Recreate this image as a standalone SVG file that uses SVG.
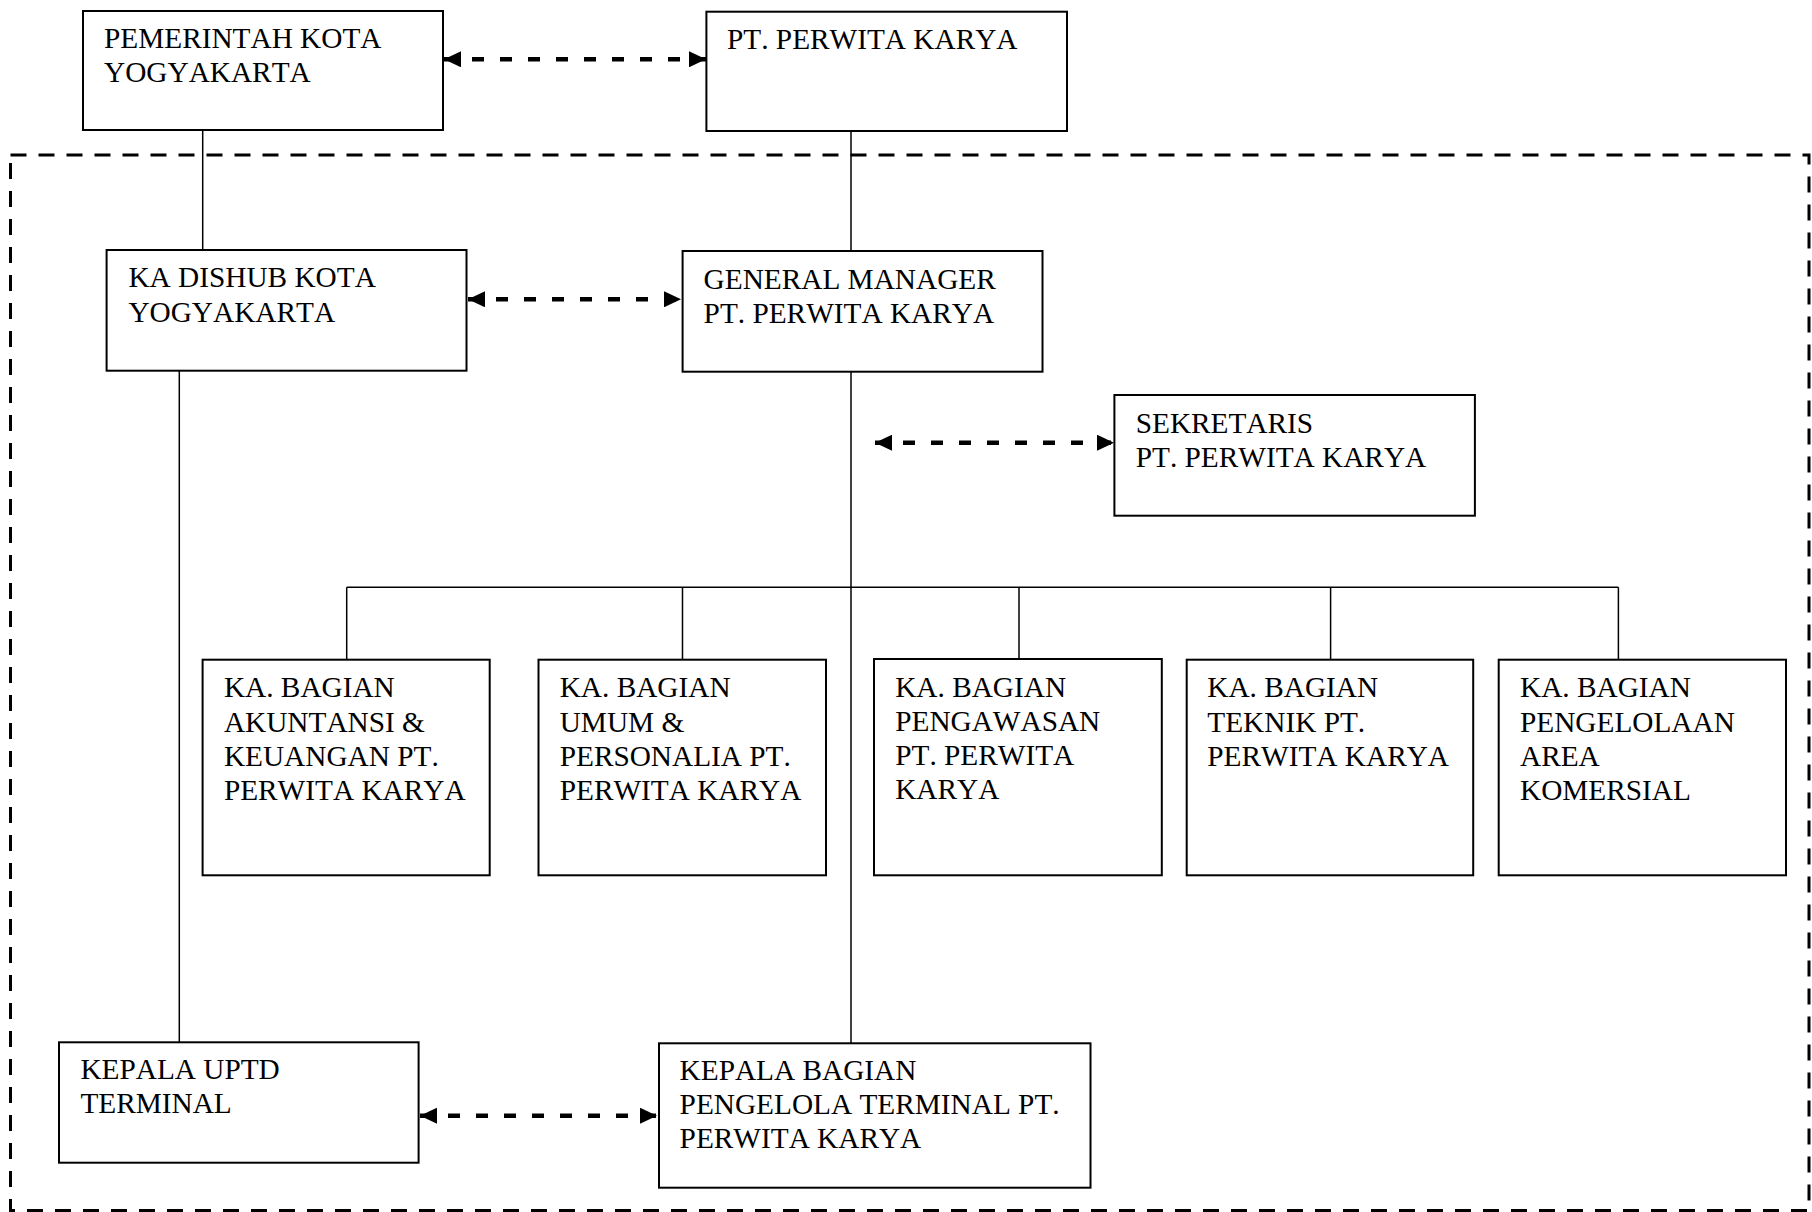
<svg xmlns="http://www.w3.org/2000/svg" width="1812" height="1212" viewBox="0 0 1812 1212">
<style>
.box{fill:#fff;stroke:#000;stroke-width:2}
.t{font-family:"Liberation Serif","Times New Roman",serif;font-size:29.3px;font-kerning:none;fill:#000}
.ln{stroke:#000;stroke-width:1.5;fill:none}
.da{stroke:#000;stroke-width:4.5;fill:none;stroke-dasharray:12 16;marker-start:url(#ah);marker-end:url(#ah)}
.frame{fill:none;stroke:#000;stroke-width:3;stroke-dasharray:16 12}
</style>
<defs>
<marker id="ah" markerUnits="userSpaceOnUse" markerWidth="18" markerHeight="16" refX="17" refY="8" orient="auto-start-reverse">
<path d="M0,0 L17,8 L0,16 z" fill="#000"/>
</marker>
</defs>
<rect class="frame" x="10.5" y="155" width="1798.5" height="1055.5"/>
<g id="connectors">
<line class="ln" x1="202.7" y1="130" x2="202.7" y2="250"/>
<line class="ln" x1="851" y1="131" x2="851" y2="251"/>
<line class="ln" x1="179.3" y1="371" x2="179.3" y2="1042"/>
<line class="ln" x1="851" y1="372" x2="851" y2="1043"/>
<line class="ln" x1="346.7" y1="587.3" x2="1618.4" y2="587.3"/>
<line class="ln" x1="346.7" y1="587.3" x2="346.7" y2="659.7"/>
<line class="ln" x1="682.5" y1="587.3" x2="682.5" y2="659.7"/>
<line class="ln" x1="1019" y1="587.3" x2="1019" y2="659"/>
<line class="ln" x1="1330.6" y1="587.3" x2="1330.6" y2="659.7"/>
<line class="ln" x1="1618.4" y1="587.3" x2="1618.4" y2="659.7"/>
<line class="da" x1="444" y1="59.3" x2="706" y2="59.3"/>
<line class="da" x1="468" y1="299.3" x2="681" y2="299.3"/>
<line class="da" x1="875" y1="442.7" x2="1114" y2="442.7"/>
<line class="da" x1="420" y1="1115.7" x2="657" y2="1115.7"/>
</g>
<g id="pemerintah">
<rect class="box" x="83" y="11" width="360" height="119"/>
<text class="t" x="104" y="48.3">PEMERINTAH KOTA</text>
<text class="t" x="104" y="81.7">YOGYAKARTA</text>
</g>
<g id="perwita">
<rect class="box" x="706.4" y="11.7" width="360.6" height="119.3"/>
<text class="t" x="727" y="49.3">PT. PERWITA KARYA</text>
</g>
<g id="dishub">
<rect class="box" x="106.6" y="250" width="359.9" height="120.7"/>
<text class="t" x="128.4" y="287.3">KA DISHUB KOTA</text>
<text class="t" x="128.4" y="321.7">YOGYAKARTA</text>
</g>
<g id="gm">
<rect class="box" x="682.6" y="251" width="359.9" height="120.7"/>
<text class="t" x="703.6" y="289.3">GENERAL MANAGER</text>
<text class="t" x="703.6" y="322.7">PT. PERWITA KARYA</text>
</g>
<g id="sekretaris">
<rect class="box" x="1114.4" y="395" width="360.5" height="120.7"/>
<text class="t" x="1135.7" y="432.7">SEKRETARIS</text>
<text class="t" x="1135.7" y="466.7">PT. PERWITA KARYA</text>
</g>
<g id="akuntansi">
<rect class="box" x="202.6" y="659.7" width="287.1" height="215.6"/>
<text class="t" x="223.9" y="697.3">KA. BAGIAN</text>
<text class="t" x="223.9" y="731.5">AKUNTANSI &amp;</text>
<text class="t" x="223.9" y="765.5">KEUANGAN PT.</text>
<text class="t" x="223.9" y="799.5">PERWITA KARYA</text>
</g>
<g id="umum">
<rect class="box" x="538.5" y="659.7" width="287.5" height="215.6"/>
<text class="t" x="559.7" y="697.3">KA. BAGIAN</text>
<text class="t" x="559.7" y="731.5">UMUM &amp;</text>
<text class="t" x="559.7" y="765.5">PERSONALIA PT.</text>
<text class="t" x="559.7" y="799.5">PERWITA KARYA</text>
</g>
<g id="pengawasan">
<rect class="box" x="874" y="659" width="287.8" height="216.3"/>
<text class="t" x="895.2" y="696.7">KA. BAGIAN</text>
<text class="t" x="895.2" y="730.9">PENGAWASAN</text>
<text class="t" x="895.2" y="764.9">PT. PERWITA</text>
<text class="t" x="895.2" y="798.9">KARYA</text>
</g>
<g id="teknik">
<rect class="box" x="1186.7" y="659.7" width="286.5" height="215.6"/>
<text class="t" x="1207.3" y="697.3">KA. BAGIAN</text>
<text class="t" x="1207.3" y="731.5">TEKNIK PT.</text>
<text class="t" x="1207.3" y="765.5">PERWITA KARYA</text>
</g>
<g id="komersial">
<rect class="box" x="1498.7" y="659.7" width="287.3" height="215.6"/>
<text class="t" x="1520" y="697.3">KA. BAGIAN</text>
<text class="t" x="1520" y="731.5">PENGELOLAAN</text>
<text class="t" x="1520" y="765.5">AREA</text>
<text class="t" x="1520" y="799.5">KOMERSIAL</text>
</g>
<g id="uptd">
<rect class="box" x="59" y="1042.3" width="359.6" height="120.4"/>
<text class="t" x="80.4" y="1079.3">KEPALA UPTD</text>
<text class="t" x="80.4" y="1113.3">TERMINAL</text>
</g>
<g id="terminal">
<rect class="box" x="659" y="1043.3" width="431.5" height="144.4"/>
<text class="t" x="679.6" y="1080">KEPALA BAGIAN</text>
<text class="t" x="679.6" y="1114">PENGELOLA TERMINAL PT.</text>
<text class="t" x="679.6" y="1148">PERWITA KARYA</text>
</g>
</svg>
